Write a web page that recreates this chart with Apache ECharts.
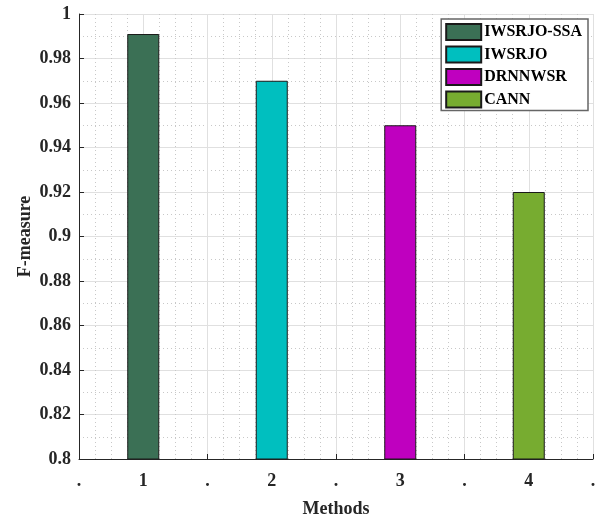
<!DOCTYPE html>
<html>
<head>
<meta charset="utf-8">
<script src="https://cdn.jsdelivr.net/npm/echarts@6/dist/echarts.min.js"></script>
<style>
  html, body { margin: 0; padding: 0; background: #fff; }
  #chart { width: 597px; height: 519px; }
</style>
</head>
<body>
<div id="chart"></div>
<script>
// methods shown on the x axis and their F-measure
const methods = ['IWSRJO-SSA', 'IWSRJO', 'DRNNWSR', 'CANN'];
const positions = [1, 2, 3, 4];
const fMeasure = [0.991, 0.970, 0.950, 0.920];
const colors = ['#3b7055', '#00bfbf', '#bf00bf', '#77ac30'];

const font = 'Liberation Serif';

const chart = echarts.init(document.getElementById('chart'));

// one series per method so each gets its own legend entry
const series = methods.map(function (name, i) {
    return {
        name: name,
        type: 'bar',
        barWidth: 32,
        barGap: '-100%',
        data: [[positions[i], fMeasure[i]]],
        itemStyle: {
            color: colors[i],
            borderColor: '#1a1a1a',
            borderWidth: 1
        }
    };
});

chart.setOption({
    animation: false,
    grid: { left: 79, right: 4, top: 14, bottom: 60, outerBoundsMode: 'none' },
    legend: {
        orient: 'vertical',
        right: 9,
        top: 19,
        icon: 'rect',
        itemWidth: 35,
        itemHeight: 16,
        itemGap: 4.5,
        padding: [4, 6, 2, 4],
        borderColor: '#666',
        borderWidth: 1.5,
        backgroundColor: '#fff',
        textStyle: { fontFamily: font, fontWeight: 'bold', fontSize: 16, lineHeight: 16, color: '#000', padding: [0, 0, 0, -2] },
        data: methods
    },
    xAxis: {
        type: 'value',
        min: 0.5,
        max: 4.5,
        interval: 0.5,
        name: 'Methods',
        nameLocation: 'middle',
        nameGap: 41,
        nameMoveOverlap: false,
        nameTextStyle: { fontFamily: font, fontWeight: 'bold', fontSize: 18, color: '#262626' },
        axisLine: { show: true, lineStyle: { color: '#262626', width: 1 } },
        axisTick: { show: true, inside: true, length: 5, lineStyle: { color: '#262626' } },
        axisLabel: {
            margin: 13,
            fontFamily: font, fontWeight: 'bold', fontSize: 18, color: '#262626',
            formatter: function (v) { return Number.isInteger(v) ? String(v) : '.'; }
        },
        splitLine: { show: true, lineStyle: { color: '#e0e0e0', width: 1 } },
        minorTick: { show: false, splitNumber: 4 },
        minorSplitLine: { show: true, lineStyle: { color: '#c8c8c8', type: [1, 3], width: 1 } }
    },
    yAxis: {
        type: 'value',
        min: 0.8,
        max: 1,
        interval: 0.02,
        name: 'F-measure',
        nameLocation: 'middle',
        nameGap: 45,
        nameMoveOverlap: false,
        nameTextStyle: { fontFamily: font, fontWeight: 'bold', fontSize: 18, color: '#262626' },
        axisLine: { show: true, lineStyle: { color: '#262626', width: 1 } },
        axisTick: { show: true, inside: true, length: 5, lineStyle: { color: '#262626' } },
        axisLabel: {
            margin: 8,
            fontFamily: font, fontWeight: 'bold', fontSize: 18, color: '#262626',
            formatter: function (v) { return String(parseFloat(v.toFixed(2))); }
        },
        splitLine: { show: true, lineStyle: { color: '#e0e0e0', width: 1 } },
        minorTick: { show: false, splitNumber: 2 },
        minorSplitLine: { show: true, lineStyle: { color: '#c8c8c8', type: [1, 3], width: 1 } }
    },
    series: series
});
</script>
</body>
</html>
